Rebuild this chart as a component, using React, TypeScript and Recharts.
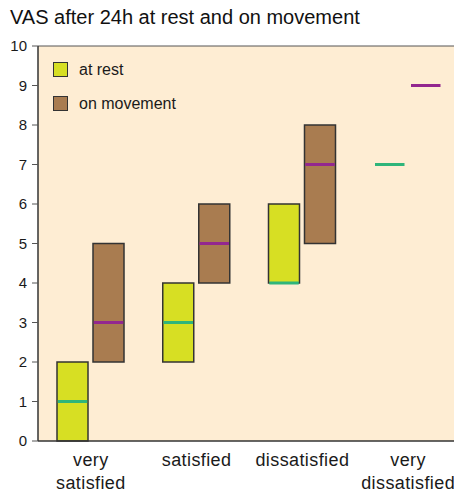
import React from 'react';
import {
    ComposedChart,
    Bar,
    XAxis,
    YAxis,
    CartesianGrid,
    ReferenceLine,
} from 'recharts';

const categories = ['very satisfied', 'satisfied', 'dissatisfied', 'very dissatisfied'];
const restLow = [0, 2, 4, 7];
const restHigh = [2, 4, 6, 7];
const restMedian = [1, 3, 4, 7];
const moveLow = [2, 4, 5, 9];
const moveHigh = [5, 6, 8, 9];
const moveMedian = [3, 5, 7, 9];
const yTicks = [0, 1, 2, 3, 4, 5, 6, 7, 8, 9, 10];

const REST_FILL = '#d7df23';
const MOVE_FILL = '#a97c50';
const REST_MEDIAN = '#2fb57a';
const MOVE_MEDIAN = '#93278f';
const FONT = '"Liberation Sans", Arial, Helvetica, sans-serif';

const data = categories.map((name, i) => ({
    name,
    rest: [restLow[i], restHigh[i]],
    restMedian: restMedian[i],
    move: [moveLow[i], moveHigh[i]],
    moveMedian: moveMedian[i],
}));

// box + median line; median pixel is derived from the bar's own pixel range
const makeBox = (fill: string, medianColor: string, rangeKey: 'rest' | 'move', medianKey: 'restMedian' | 'moveMedian') =>
    (props: any) => {
        const { x, y, width, height, payload } = props;
        const top = Math.min(y, y + height);
        const h = Math.abs(height);
        const [low, high] = payload[rangeKey];
        const med = payload[medianKey];
        const my = high === low ? top : top + (h * (high - med)) / (high - low);
        return (
            <g>
                {h > 0 && (
                    <rect x={x} y={top} width={width} height={h} fill={fill} stroke="#333" strokeWidth={1.5} />
                )}
                <line x1={x + 0.75} x2={x + width - 0.75} y1={my} y2={my} stroke={medianColor} strokeWidth={3} />
            </g>
        );
    };

const XTick: React.FC<any> = ({ x, y, payload }) => {
    const lines = String(payload.value).split(' ');
    return (
        <text x={x} y={y} textAnchor="middle" fill="#1a1a1a" fontSize={18} fontFamily={FONT} letterSpacing={0.4}>
            {lines.map((l, i) => (
                <tspan key={i} x={x} dy={i === 0 ? 17 : 23}>
                    {l}
                </tspan>
            ))}
        </text>
    );
};

const legendItems = [
    { label: 'at rest', color: REST_FILL },
    { label: 'on movement', color: MOVE_FILL },
];

export default function App() {
    return (
        <div style={{ position: 'absolute', left: 0, top: 0, width: 454, height: 492, overflow: 'hidden', background: '#fff' }}>
            <div style={{ position: 'absolute', left: 10, top: 6, fontFamily: FONT, fontSize: 20, color: '#111', whiteSpace: 'nowrap' }}>
                VAS after 24h at rest and on movement
            </div>
            <ComposedChart
                width={461}
                height={492}
                data={data}
                margin={{ top: 46, right: 0, left: 0, bottom: 0 }}
                barSize={31}
                barGap={5}
            >
                <CartesianGrid horizontal={false} vertical={false} fill="#feedd3" />
                <ReferenceLine y={10} stroke="#555" strokeWidth={1} />
                <XAxis
                    dataKey="name"
                    height={51}
                    tickLine={false}
                    axisLine={{ stroke: '#333', strokeWidth: 1.5 }}
                    tick={<XTick />}
                    interval={0}
                />
                <YAxis
                    width={38}
                    domain={[0, 10]}
                    ticks={yTicks}
                    interval={0}
                    tickSize={6}
                    tickMargin={5}
                    axisLine={{ stroke: '#333', strokeWidth: 1.5 }}
                    tickLine={{ stroke: '#555' }}
                    tick={{ fontSize: 15, fontFamily: FONT, fill: '#1a1a1a' }}
                />
                <Bar
                    dataKey="rest"
                    fill={REST_FILL}
                    shape={makeBox(REST_FILL, REST_MEDIAN, 'rest', 'restMedian')}
                    isAnimationActive={false}
                />
                <Bar
                    dataKey="move"
                    fill={MOVE_FILL}
                    shape={makeBox(MOVE_FILL, MOVE_MEDIAN, 'move', 'moveMedian')}
                    isAnimationActive={false}
                />
            </ComposedChart>
            <div style={{ position: 'absolute', left: 53, top: 61, fontFamily: FONT, fontSize: 16, color: '#1a1a1a' }}>
                {legendItems.map((it, i) => (
                    <div key={i} style={{ display: 'flex', alignItems: 'center', height: 17, marginBottom: i === 0 ? 17 : 0 }}>
                        <div style={{ width: 13, height: 13, background: it.color, border: '1.5px solid #333', marginRight: 11 }} />
                        <span>{it.label}</span>
                    </div>
                ))}
            </div>
        </div>
    );
}
